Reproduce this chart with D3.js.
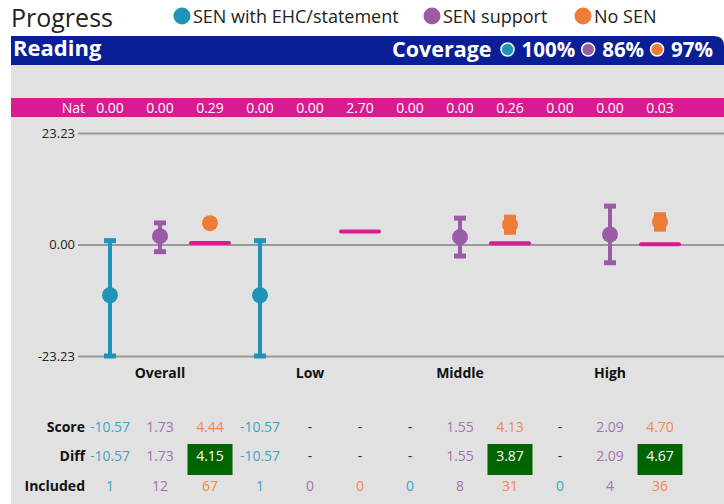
<!DOCTYPE html>
<html>
<head>
<meta charset="utf-8">
<script src="https://cdn.jsdelivr.net/npm/d3@7"></script>
<style>
  body { margin: 0; background: #fff; font-family: "Open Sans", sans-serif; }
  svg { display: block; }
</style>
</head>
<body>
<div id="chart"></div>
<script>
// chart values
var groups = ["Overall", "Low", "Middle", "High"];
var seriesNames = ["SEN with EHC/statement", "SEN support", "No SEN"];
var seriesColors = ["#1f93b8", "#9b5ba7", "#ef7b38"];
var textColors = ["#3ea3c7", "#a570b3", "#f0884f"];
var coverage = ["100%", "86%", "97%"];

// one entry per group, one value per series (null = no pupils)
var scores = [[-10.57, 1.73, 4.44], [-10.57, null, null], [null, 1.55, 4.13], [null, 2.09, 4.70]];
var ciLow = [[-23.23, -1.5, 3.8], [-23.23, null, null], [null, -2.4, 2.55], [null, -3.8, 3.2]];
var ciHigh = [[0.8, 4.5, 5.1], [0.8, null, null], [null, 5.5, 5.7], [null, 8.0, 6.2]];
var nat = [[0.00, 0.00, 0.29], [0.00, 0.00, 2.70], [0.00, 0.00, 0.26], [0.00, 0.00, 0.03]];
var diffs = [[-10.57, 1.73, 4.15], [-10.57, null, null], [null, 1.55, 3.87], [null, 2.09, 4.67]];
var diffSig = [[false, false, true], [false, false, false], [false, false, true], [false, false, true]];
var included = [[1, 12, 67], [1, 0, 0], [0, 8, 31], [0, 4, 36]];
var yTicks = [-23.23, 0, 23.23];

var W = 724, H = 504;
var svg = d3.select("#chart").append("svg").attr("width", W).attr("height", H);

// title + legend
svg.append("text").attr("x", 11).attr("y", 27).text("Progress")
  .style("font-size", "25px").style("fill", "#222");

var legendX = [182, 432, 583];
seriesNames.forEach(function(n, i) {
  svg.append("circle").attr("cx", legendX[i]).attr("cy", 16).attr("r", 8.5).style("fill", seriesColors[i]);
  svg.append("text").attr("x", legendX[i] + 11).attr("y", 23).text(n)
    .style("font-size", "18px").style("fill", "#222");
});

// grey panel
svg.append("rect").attr("x", 11).attr("y", 50).attr("width", W - 11).attr("height", H - 50).style("fill", "#e1e1e1");

// blue header with rounded top-right corner
svg.append("path")
  .attr("d", "M11,36 H714 Q724,36 724,46 V65 H11 Z")
  .style("fill", "#0a1e96");
svg.append("text").attr("x", 13).attr("y", 56).text("Reading")
  .style("font-size", "22px").style("font-weight", "bold").style("fill", "#fff");

var cov = svg.append("g");
var cx = 713;
for (var i = coverage.length - 1; i >= 0; i--) {
  var t = cov.append("text").attr("x", cx).attr("y", 57).attr("text-anchor", "end").text(coverage[i])
    .style("font-size", "20.5px").style("font-weight", "bold").style("fill", "#fff");
  var w = t.node().getComputedTextLength();
  cx = cx - w - 14;
  cov.append("circle").attr("cx", cx).attr("cy", 49.5).attr("r", 6.5)
    .style("fill", seriesColors[i]).style("stroke", "#fff").style("stroke-width", 1.5);
  cx = cx - 13;
}
cov.append("text").attr("x", cx - 3).attr("y", 57).attr("text-anchor", "end").text("Coverage")
  .style("font-size", "21.5px").style("font-weight", "bold").style("fill", "#fff");

// scales
var x0 = d3.scaleBand().domain(groups).range([85, 685]);
var x1 = d3.scaleBand().domain(d3.range(seriesNames.length)).range([0, x0.bandwidth()]);
function colX(g, s) { return x0(groups[g]) + x1(s) + x1.bandwidth() / 2; }
var y = d3.scaleLinear().domain([-23.23, 23.23]).range([356, 133]);

// Nat band
svg.append("rect").attr("x", 11).attr("y", 98).attr("width", W - 11).attr("height", 19).style("fill", "#d91b92");
svg.append("text").attr("x", 85).attr("y", 113).attr("text-anchor", "end").text("Nat")
  .style("font-size", "14px").style("fill", "#fff");
groups.forEach(function(g, gi) {
  nat[gi].forEach(function(v, si) {
    svg.append("text").attr("x", colX(gi, si)).attr("y", 113).attr("text-anchor", "middle")
      .text(v.toFixed(2)).style("font-size", "14px").style("fill", "#fff");
  });
});

// y axis
var yAxis = d3.axisLeft(y).tickValues(yTicks).tickFormat(function(d) { return d.toFixed(2); })
  .tickSize(-(W - 78)).tickPadding(3);
var ax = svg.append("g").attr("transform", "translate(78,0)").call(yAxis);
ax.select(".domain").remove();
ax.selectAll(".tick line").style("stroke", "#999").style("stroke-width", 2);
ax.selectAll(".tick text").style("font-size", "13px").style("fill", "#222").style("font-family", "Open Sans");

// nat lines for No SEN series
groups.forEach(function(g, gi) {
  var xx = colX(gi, 2);
  svg.append("line").attr("x1", xx - 19).attr("x2", xx + 19)
    .attr("y1", y(nat[gi][2])).attr("y2", y(nat[gi][2]))
    .style("stroke", "#d91b92").style("stroke-width", 4).style("stroke-linecap", "round");
});

// error bars + points
groups.forEach(function(g, gi) {
  scores[gi].forEach(function(v, si) {
    if (v === null) return;
    var xx = colX(gi, si), c = seriesColors[si];
    svg.append("line").attr("x1", xx).attr("x2", xx).attr("y1", y(ciLow[gi][si])).attr("y2", y(ciHigh[gi][si]))
      .style("stroke", c).style("stroke-width", 4);
    [ciLow[gi][si], ciHigh[gi][si]].forEach(function(e) {
      svg.append("rect").attr("x", xx - 6).attr("y", y(e) - 2.5).attr("width", 12).attr("height", 5).style("fill", c);
    });
    svg.append("circle").attr("cx", xx).attr("cy", y(v)).attr("r", 8).style("fill", c);
  });
  svg.append("text").attr("x", x0(g) + x0.bandwidth() / 2).attr("y", 378).attr("text-anchor", "middle")
    .text(g).style("font-size", "14px").style("font-weight", "bold").style("fill", "#111");
});

// table
var rows = [{ label: "Score", vals: scores, y: 432 }, { label: "Diff", vals: diffs, y: 461 }, { label: "Included", vals: included, y: 491 }];
rows.forEach(function(r) {
  svg.append("text").attr("x", 85).attr("y", r.y).attr("text-anchor", "end").text(r.label)
    .style("font-size", "14px").style("font-weight", "bold").style("fill", "#111");
  groups.forEach(function(g, gi) {
    r.vals[gi].forEach(function(v, si) {
      var xx = colX(gi, si);
      var sig = r.label == "Diff" && diffSig[gi][si];
      if (sig) {
        svg.append("rect").attr("x", xx - 22.5).attr("y", 444).attr("width", 45).attr("height", 31).style("fill", "#006400");
      }
      var txt = v === null ? "-" : (r.label == "Included" ? String(v) : v.toFixed(2));
      svg.append("text").attr("x", xx).attr("y", r.y).attr("text-anchor", "middle").text(txt)
        .style("font-size", "14px")
        .style("fill", sig ? "#fff" : (v === null ? "#333" : textColors[si]));
    });
  });
});
</script>
</body>
</html>
